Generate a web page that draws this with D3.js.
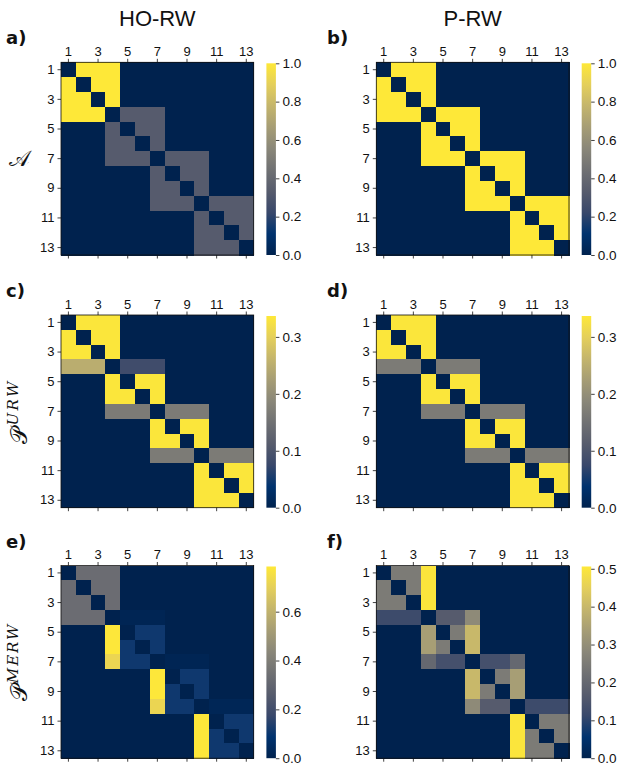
<!DOCTYPE html>
<html>
<head>
<meta charset="utf-8">
<script src="https://cdn.jsdelivr.net/npm/d3@7"></script>
<style>
  body { margin: 0; background: #fff; }
  svg { display: block; }
  text { font-family: "Liberation Sans", Arial, sans-serif; fill: #111; }
</style>
</head>
<body>
<svg id="fig" width="619" height="768"></svg>
<script>
// ---- data -------------------------------------------------------------
const nodes = d3.range(1, 14);
const tickNodes = [1, 3, 5, 7, 9, 11, 13];
const columnTitles = ["HO-RW", "P-RW"];
const panelLetters = ["a)", "b)", "c)", "d)", "e)", "f)"];

// adjacency, higher-order walk
const adjHO = [
  [0, 1, 1, 1, 0, 0, 0, 0, 0, 0, 0, 0, 0],
  [1, 0, 1, 1, 0, 0, 0, 0, 0, 0, 0, 0, 0],
  [1, 1, 0, 1, 0, 0, 0, 0, 0, 0, 0, 0, 0],
  [1, 1, 1, 0, .33, .33, .33, 0, 0, 0, 0, 0, 0],
  [0, 0, 0, .33, 0, .33, .33, 0, 0, 0, 0, 0, 0],
  [0, 0, 0, .33, .33, 0, .33, 0, 0, 0, 0, 0, 0],
  [0, 0, 0, .33, .33, .33, 0, .33, .33, .33, 0, 0, 0],
  [0, 0, 0, 0, 0, 0, .33, 0, .33, .33, 0, 0, 0],
  [0, 0, 0, 0, 0, 0, .33, .33, 0, .33, 0, 0, 0],
  [0, 0, 0, 0, 0, 0, .33, .33, .33, 0, .33, .33, .33],
  [0, 0, 0, 0, 0, 0, 0, 0, 0, .33, 0, .33, .33],
  [0, 0, 0, 0, 0, 0, 0, 0, 0, .33, .33, 0, .33],
  [0, 0, 0, 0, 0, 0, 0, 0, 0, .33, .33, .33, 0]
];

// adjacency, pairwise walk
const adjP = [
  [0, 1, 1, 1, 0, 0, 0, 0, 0, 0, 0, 0, 0],
  [1, 0, 1, 1, 0, 0, 0, 0, 0, 0, 0, 0, 0],
  [1, 1, 0, 1, 0, 0, 0, 0, 0, 0, 0, 0, 0],
  [1, 1, 1, 0, 1, 1, 1, 0, 0, 0, 0, 0, 0],
  [0, 0, 0, 1, 0, 1, 1, 0, 0, 0, 0, 0, 0],
  [0, 0, 0, 1, 1, 0, 1, 0, 0, 0, 0, 0, 0],
  [0, 0, 0, 1, 1, 1, 0, 1, 1, 1, 0, 0, 0],
  [0, 0, 0, 0, 0, 0, 1, 0, 1, 1, 0, 0, 0],
  [0, 0, 0, 0, 0, 0, 1, 1, 0, 1, 0, 0, 0],
  [0, 0, 0, 0, 0, 0, 1, 1, 1, 0, 1, 1, 1],
  [0, 0, 0, 0, 0, 0, 0, 0, 0, 1, 0, 1, 1],
  [0, 0, 0, 0, 0, 0, 0, 0, 0, 1, 1, 0, 1],
  [0, 0, 0, 0, 0, 0, 0, 0, 0, 1, 1, 1, 0]
];

// unbiased random-walk transition matrix, higher-order
const urwHO = [
  [0, .333, .333, .333, 0, 0, 0, 0, 0, 0, 0, 0, 0],
  [.333, 0, .333, .333, 0, 0, 0, 0, 0, 0, 0, 0, 0],
  [.333, .333, 0, .333, 0, 0, 0, 0, 0, 0, 0, 0, 0],
  [.25, .25, .25, 0, .083, .083, .083, 0, 0, 0, 0, 0, 0],
  [0, 0, 0, .333, 0, .333, .333, 0, 0, 0, 0, 0, 0],
  [0, 0, 0, .333, .333, 0, .333, 0, 0, 0, 0, 0, 0],
  [0, 0, 0, .167, .167, .167, 0, .167, .167, .167, 0, 0, 0],
  [0, 0, 0, 0, 0, 0, .333, 0, .333, .333, 0, 0, 0],
  [0, 0, 0, 0, 0, 0, .333, .333, 0, .333, 0, 0, 0],
  [0, 0, 0, 0, 0, 0, .167, .167, .167, 0, .167, .167, .167],
  [0, 0, 0, 0, 0, 0, 0, 0, 0, .333, 0, .333, .333],
  [0, 0, 0, 0, 0, 0, 0, 0, 0, .333, .333, 0, .333],
  [0, 0, 0, 0, 0, 0, 0, 0, 0, .333, .333, .333, 0]
];

// unbiased random-walk transition matrix, pairwise
const urwP = [
  [0, .333, .333, .333, 0, 0, 0, 0, 0, 0, 0, 0, 0],
  [.333, 0, .333, .333, 0, 0, 0, 0, 0, 0, 0, 0, 0],
  [.333, .333, 0, .333, 0, 0, 0, 0, 0, 0, 0, 0, 0],
  [.167, .167, .167, 0, .167, .167, .167, 0, 0, 0, 0, 0, 0],
  [0, 0, 0, .333, 0, .333, .333, 0, 0, 0, 0, 0, 0],
  [0, 0, 0, .333, .333, 0, .333, 0, 0, 0, 0, 0, 0],
  [0, 0, 0, .167, .167, .167, 0, .167, .167, .167, 0, 0, 0],
  [0, 0, 0, 0, 0, 0, .333, 0, .333, .333, 0, 0, 0],
  [0, 0, 0, 0, 0, 0, .333, .333, 0, .333, 0, 0, 0],
  [0, 0, 0, 0, 0, 0, .167, .167, .167, 0, .167, .167, .167],
  [0, 0, 0, 0, 0, 0, 0, 0, 0, .333, 0, .333, .333],
  [0, 0, 0, 0, 0, 0, 0, 0, 0, .333, .333, 0, .333],
  [0, 0, 0, 0, 0, 0, 0, 0, 0, .333, .333, .333, 0]
];

// maximal-entropy random-walk transition matrix, higher-order
const merwHO = [
  [0, .33, .33, .33, 0, 0, 0, 0, 0, 0, 0, 0, 0],
  [.33, 0, .33, .33, 0, 0, 0, 0, 0, 0, 0, 0, 0],
  [.33, .33, 0, .33, 0, 0, 0, 0, 0, 0, 0, 0, 0],
  [.33, .33, .33, 0, .015, .015, .015, 0, 0, 0, 0, 0, 0],
  [0, 0, 0, .78, 0, .11, .11, 0, 0, 0, 0, 0, 0],
  [0, 0, 0, .78, .11, 0, .11, 0, 0, 0, 0, 0, 0],
  [0, 0, 0, .72, .11, .11, 0, .015, .015, .015, 0, 0, 0],
  [0, 0, 0, 0, 0, 0, .78, 0, .11, .11, 0, 0, 0],
  [0, 0, 0, 0, 0, 0, .78, .11, 0, .11, 0, 0, 0],
  [0, 0, 0, 0, 0, 0, .72, .11, .11, 0, .02, .02, .02],
  [0, 0, 0, 0, 0, 0, 0, 0, 0, .78, 0, .11, .11],
  [0, 0, 0, 0, 0, 0, 0, 0, 0, .78, .11, 0, .11],
  [0, 0, 0, 0, 0, 0, 0, 0, 0, .78, .11, .11, 0]
];

// maximal-entropy random-walk transition matrix, pairwise
const merwP = [
  [0, .25, .25, .5, 0, 0, 0, 0, 0, 0, 0, 0, 0],
  [.25, 0, .25, .5, 0, 0, 0, 0, 0, 0, 0, 0, 0],
  [.25, .25, 0, .5, 0, 0, 0, 0, 0, 0, 0, 0, 0],
  [.12, .12, .12, 0, .167, .167, .29, 0, 0, 0, 0, 0, 0],
  [0, 0, 0, .34, 0, .25, .40, 0, 0, 0, 0, 0, 0],
  [0, 0, 0, .34, .25, 0, .40, 0, 0, 0, 0, 0, 0],
  [0, 0, 0, .2, .135, .135, 0, .135, .135, .2, 0, 0, 0],
  [0, 0, 0, 0, 0, 0, .40, 0, .25, .34, 0, 0, 0],
  [0, 0, 0, 0, 0, 0, .40, .25, 0, .34, 0, 0, 0],
  [0, 0, 0, 0, 0, 0, .29, .167, .167, 0, .12, .12, .12],
  [0, 0, 0, 0, 0, 0, 0, 0, 0, .5, 0, .25, .25],
  [0, 0, 0, 0, 0, 0, 0, 0, 0, .5, .25, 0, .25],
  [0, 0, 0, 0, 0, 0, 0, 0, 0, .5, .25, .25, 0]
];

const matrices = [adjHO, adjP, urwHO, urwP, merwHO, merwP];
const colorMax = [1, 1, 0.3367, 0.3367, 0.785, 0.506];
const colorTicks = [
  [0, 0.2, 0.4, 0.6, 0.8, 1.0],
  [0, 0.2, 0.4, 0.6, 0.8, 1.0],
  [0, 0.1, 0.2, 0.3],
  [0, 0.1, 0.2, 0.3],
  [0, 0.2, 0.4, 0.6],
  [0, 0.1, 0.2, 0.3, 0.4, 0.5]
];

// cividis colour ramp
const cividisStops = [0, 1/9, 2/9, 3/9, 4/9, 5/9, 6/9, 7/9, 8/9, 1];
const cividisColors = ["#00224e", "#00336f", "#39486b", "#575c6d", "#707173",
                       "#8a8779", "#a69d75", "#c4b56c", "#e4cf5b", "#fee838"];

// ---- layout -----------------------------------------------------------
const colX = [61, 376.3];
const rowY = [62.3, 315, 565.5];
const S = 192.7;
const cbGap = 12.7, cbW = 9.5;

const svg = d3.select("#fig");
const defs = svg.append("defs");

columnTitles.forEach((t, c) => {
  svg.append("text")
    .attr("x", colX[c] + S / 2)
    .attr("y", 26)
    .attr("text-anchor", "middle")
    .style("font-size", "22px")
    .text(t);
});

matrices.forEach((M, k) => {
  const r = Math.floor(k / 2), c = k % 2;
  const x0 = colX[c], y0 = rowY[r];
  const vmax = colorMax[k];
  const g = svg.append("g");

  const x = d3.scaleBand().domain(nodes).range([x0, x0 + S]);
  const y = d3.scaleBand().domain(nodes).range([y0, y0 + S]);
  const color = d3.scaleLinear()
    .domain(cividisStops.map(s => s * vmax))
    .range(cividisColors)
    .interpolate(d3.interpolateRgb)
    .clamp(true);

  const cells = [];
  M.forEach((row, i) => row.forEach((v, j) => cells.push({ i: nodes[i], j: nodes[j], v })));
  g.selectAll("rect.cell").data(cells).join("rect")
    .attr("class", "cell")
    .attr("x", d => x(d.j))
    .attr("y", d => y(d.i))
    .attr("width", x.bandwidth() + 0.5)
    .attr("height", y.bandwidth() + 0.5)
    .attr("shape-rendering", "crispEdges")
    .attr("fill", d => color(d.v));

  g.append("rect")
    .attr("x", x0).attr("y", y0).attr("width", S).attr("height", S)
    .attr("fill", "none").attr("stroke", "#111").attr("stroke-width", 0.8);

  const styleAxis = sel => {
    sel.select(".domain").remove();
    sel.selectAll(".tick line").attr("stroke", "#111").attr("stroke-width", 0.8);
    sel.selectAll(".tick text")
      .style("font-size", "13px")
      .style("font-family", "'Liberation Sans', Arial, sans-serif")
      .attr("fill", "#111");
  };

  g.append("g").attr("transform", `translate(0,${y0})`)
    .call(d3.axisTop(x).tickValues(tickNodes).tickSize(3.5).tickPadding(3))
    .call(styleAxis);
  g.append("g").attr("transform", `translate(0,${y0 + S})`)
    .call(d3.axisBottom(x).tickValues(tickNodes).tickSize(3.5).tickFormat(""))
    .call(styleAxis);
  g.append("g").attr("transform", `translate(${x0},0)`)
    .call(d3.axisLeft(y).tickValues(tickNodes).tickSize(3.5).tickPadding(3))
    .call(styleAxis);

  // colour bar
  const gid = "cb" + k;
  const grad = defs.append("linearGradient").attr("id", gid)
    .attr("x1", 0).attr("y1", 1).attr("x2", 0).attr("y2", 0);
  grad.selectAll("stop").data(cividisStops).join("stop")
    .attr("offset", d => d)
    .attr("stop-color", (d, i) => cividisColors[i]);
  const cbX = x0 + S + cbGap;
  const cbTop = y0 + 1;
  g.append("rect")
    .attr("x", cbX).attr("y", cbTop).attr("width", cbW).attr("height", y0 + S - cbTop)
    .attr("fill", `url(#${gid})`);
  const cy = d3.scaleLinear().domain([0, vmax]).range([y0 + S, cbTop]);
  g.append("g").attr("transform", `translate(${cbX + cbW},0)`)
    .call(d3.axisRight(cy).tickValues(colorTicks[k]).tickSize(3.5).tickPadding(3)
      .tickFormat(d3.format(".1f")))
    .call(styleAxis)
    .call(s => s.selectAll(".tick text").style("font-size", "13.5px"));

  // panel letter
  svg.append("text")
    .attr("x", c === 0 ? 6 : 327)
    .attr("y", y0 - 18)
    .style("font-family", "'DejaVu Sans', sans-serif")
    .style("font-weight", "bold")
    .style("font-size", "18px")
    .text(panelLetters[k]);
});

// row labels
const rowLabel = (r, sup) => {
  const cy = rowY[r] + S / 2;
  return svg.append("text")
    .attr("transform", sup ? `translate(27,${cy}) rotate(-90)` : `translate(19,${cy + 7})`)
    .attr("text-anchor", "middle")
    .style("font-family", "'DejaVu Serif', serif");
};
rowLabel(0, false).append("tspan").style("font-size", "22px").text("\u{1D49C}");
const l1 = rowLabel(1, true);
l1.append("tspan").style("font-size", "23px").text("\u{1D4AB}");
l1.append("tspan").attr("dy", -9).attr("dx", 1).style("font-size", "15px").style("font-style", "italic")
  .attr("letter-spacing", 2.5).text("URW");
const l2 = rowLabel(2, true);
l2.append("tspan").style("font-size", "23px").text("\u{1D4AB}");
l2.append("tspan").attr("dy", -9).attr("dx", 1).style("font-size", "15px").style("font-style", "italic")
  .attr("letter-spacing", 2).text("MERW");
</script>
</body>
</html>
